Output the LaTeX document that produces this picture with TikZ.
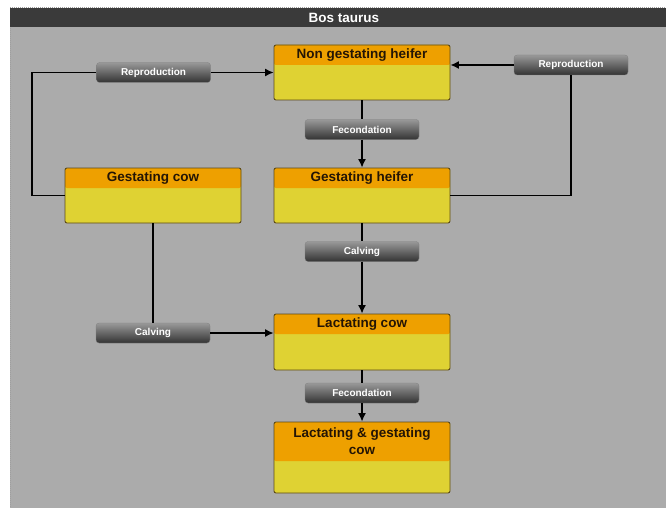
\documentclass[tikz,border=0pt]{standalone}
\usepackage{fontspec}
\setmainfont{Liberation Sans}
\usetikzlibrary{arrows.meta}

\definecolor{panelgray}{HTML}{ABABAB}
\definecolor{titlebar}{HTML}{3A3A3A}
\definecolor{headorange}{HTML}{EEA000}
\definecolor{bodyyellow}{HTML}{DFD233}
\definecolor{boxline}{HTML}{5C4A18}
\definecolor{headtext}{HTML}{241505}

\tikzset{
  state/.style={draw=boxline, line width=0.9pt, rounded corners=2pt,
    fill=bodyyellow, minimum width=176pt, minimum height=#1, inner sep=0pt},
  header/.style={path picture={\fill[headorange]
      (path picture bounding box.north west) rectangle
      ([yshift=-#1]path picture bounding box.north east);}},
  statetext/.style={font=\bfseries\fontsize{13.5}{16.5}\selectfont,
    text=headtext, align=center, inner sep=0pt},
  pill/.style={rounded corners=3pt, minimum width=114pt, minimum height=20pt,
    inner sep=0pt, top color=black!40, middle color=black!74,
    bottom color=black!80, draw=black!50, line width=0.3pt,
    text=white, font=\bfseries\fontsize{10}{12}\selectfont},
  link/.style={line width=1.3pt, draw=black},
  arrow/.style={link, -{Latex[length=8.5pt,width=8pt]}}
}

\begin{document}
\begin{tikzpicture}[x=1pt, y=-1pt]
  % canvas and frame
  \fill[white] (0,0) rectangle (666,508);
  \useasboundingbox (0,0) rectangle (666,508);
  \fill[panelgray] (10,8) rectangle (666,508);
  \draw[gray!75, densely dotted, line width=1pt] (10.5,8) -- (10.5,508);
  \draw[gray!75, densely dotted, line width=1pt] (10,7.5) -- (666,7.5);
  \fill[titlebar] (10,8) rectangle (666,27);
  \node[text=white, font=\bfseries\fontsize{13.5}{16}\selectfont, inner sep=0pt]
    (title) at (344,17.5) {Bos taurus};

  % states
  \node[state=55pt, header=20pt] (ngh) at (362,72.5) {};
  \node[statetext] (ngh-t) at ([yshift=-10pt]ngh.north) {Non gestating heifer};

  \node[state=55pt, header=20pt] (gc) at (153,195.5) {};
  \node[statetext] (gc-t) at ([yshift=-10pt]gc.north) {Gestating cow};

  \node[state=55pt, header=20pt] (gh) at (362,195.5) {};
  \node[statetext] (gh-t) at ([yshift=-10pt]gh.north) {Gestating heifer};

  \node[state=56pt, header=20pt] (lc) at (362,342) {};
  \node[statetext] (lc-t) at ([yshift=-10pt]lc.north) {Lactating cow};

  \node[state=71pt, header=39pt] (lgc) at (362,457.5) {};
  \node[statetext] (lgc-t) at ([yshift=-19.5pt]lgc.north) {Lactating \& gestating\\cow};

  % transitions
  \node[pill] (rep1) at (153.5,72.5) {Reproduction};
  \node[pill] (rep2) at (571,65) {Reproduction};
  \node[pill] (fec1) at (362,129.5) {Fecondation};
  \node[pill] (calv1) at (362,251.5) {Calving};
  \node[pill] (calv2) at (153,333) {Calving};
  \node[pill] (fec2) at (362,393) {Fecondation};

  \coordinate (corner) at (32,72.5);

  % connectors
  \draw[link] (gc.west) -| (corner) -- (rep1.west);
  \draw[arrow] (rep1.east) -- (ngh.west);

  \draw[link] (gh.east) -| (rep2.south);
  \draw[arrow] (rep2.west) -- (rep2.west -| ngh.east);

  \draw[link] (ngh.south) -- (fec1.north);
  \draw[arrow] (fec1.south) -- (gh.north);

  \draw[link] (gh.south) -- (calv1.north);
  \draw[arrow] (calv1.south) -- (lc.north);

  \draw[link] (gc.south) -- (calv2.north);
  \draw[arrow] (calv2.east) -- (calv2.east -| lc.west);

  \draw[link] (lc.south) -- (fec2.north);
  \draw[arrow] (fec2.south) -- (lgc.north);
\end{tikzpicture}
\end{document}
